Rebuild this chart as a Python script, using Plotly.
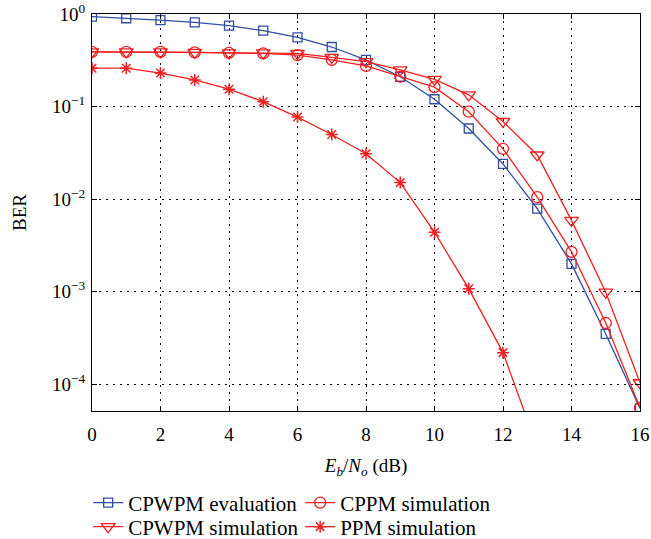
import plotly.graph_objects as go

ebno = list(range(0, 17))
cpwpm_eval = [0.935, 0.90, 0.86, 0.81, 0.75, 0.66, 0.56, 0.44, 0.32, 0.21, 0.12, 0.058, 0.024, 0.0079, 0.0020, 3.5e-4, 5.5e-5]
cppm_sim = [0.39, 0.39, 0.39, 0.385, 0.38, 0.375, 0.36, 0.32, 0.275, 0.21, 0.162, 0.088, 0.035, 0.0105, 0.0027, 4.6e-4, 5.6e-5]
cpwpm_sim = [0.39, 0.39, 0.39, 0.385, 0.38, 0.38, 0.375, 0.34, 0.306, 0.249, 0.197, 0.134, 0.069, 0.030, 0.0059, 9.9e-4, 1.04e-4]
ppm_x = list(range(0, 14))
ppm_sim = [0.26, 0.26, 0.23, 0.194, 0.154, 0.113, 0.077, 0.050, 0.031, 0.0151, 0.0044, 1.08e-3, 2.2e-4, 2.1e-5]

x_ticks = [0, 2, 4, 6, 8, 10, 12, 14, 16]
y_tickvals = [1, 0.1, 0.01, 0.001, 0.0001]
y_ticktext = ["10<sup>0</sup>", "10<sup>−1</sup>", "10<sup>−2</sup>", "10<sup>−3</sup>", "10<sup>−4</sup>"]

BLUE = "#2f4fa2"
RED = "#f02020"
FONT = "Liberation Serif"

fig = go.Figure()
fig.add_trace(go.Scatter(x=ebno, y=cpwpm_eval, name="CPWPM evaluation", mode="lines+markers",
                         line=dict(color=BLUE, width=1.3), legend="legend",
                         marker=dict(symbol="square-open", size=9, color=BLUE, line=dict(width=1.3))))
fig.add_trace(go.Scatter(x=ebno, y=cppm_sim, name="CPPM simulation", mode="lines+markers",
                         line=dict(color=RED, width=1.3), legend="legend",
                         marker=dict(symbol="circle-open", size=11, color=RED, line=dict(width=1.3))))
fig.add_trace(go.Scatter(x=ebno, y=cpwpm_sim, name="CPWPM simulation", mode="lines+markers",
                         line=dict(color=RED, width=1.3), legend="legend2",
                         marker=dict(symbol="triangle-down-open", size=12, color=RED, line=dict(width=1.3))))
fig.add_trace(go.Scatter(x=ppm_x, y=ppm_sim, name="PPM simulation", mode="lines+markers",
                         line=dict(color=RED, width=1.3), legend="legend2",
                         marker=dict(symbol="asterisk-open", size=10, color=RED, line=dict(width=1.5, color=RED))))

axis_common = dict(showline=True, linecolor="black", linewidth=1.2, mirror="ticks",
                   ticks="inside", ticklen=5, tickcolor="black", automargin=False,
                   showgrid=True, gridcolor="black", griddash="2px,5px", gridwidth=1,
                   zeroline=False, tickfont=dict(family=FONT, size=19, color="black"))

fig.update_xaxes(range=[0, 16], tickvals=x_ticks, ticklabelstandoff=6,
                 title=dict(text="<i>E<sub>b</sub></i>/<i>N<sub>o</sub></i> (dB)",
                            font=dict(family=FONT, size=19, color="black"), standoff=14),
                 **axis_common)
fig.update_yaxes(type="log", range=[-4.288, 0], tickvals=y_tickvals, ticktext=y_ticktext,
                 ticklabelstandoff=2,
                 title=dict(text="BER", font=dict(family=FONT, size=19, color="black"), standoff=20),
                 **axis_common)

legend_common = dict(orientation="h", xanchor="left", yanchor="middle",
                     entrywidth=167, entrywidthmode="pixels", traceorder="normal",
                     font=dict(family=FONT, size=21, color="black"), bgcolor="rgba(0,0,0,0)",
                     itemwidth=30)

plot_h = 539 - 14 - 128
fig.update_layout(
    width=651, height=539,
    margin=dict(l=92, r=11, t=14, b=128, autoexpand=False),
    paper_bgcolor="white", plot_bgcolor="white",
    font=dict(family=FONT, size=19, color="black"),
    showlegend=True,
    legend=dict(x=-0.007, y=-(503 - 411) / plot_h, **legend_common),
    legend2=dict(x=-0.007, y=-(527 - 411) / plot_h, **legend_common),
)

fig.write_html("out.html", config={"displayModeBar": False},
               post_script="document.body.style.margin='0';document.body.style.padding='0';")
